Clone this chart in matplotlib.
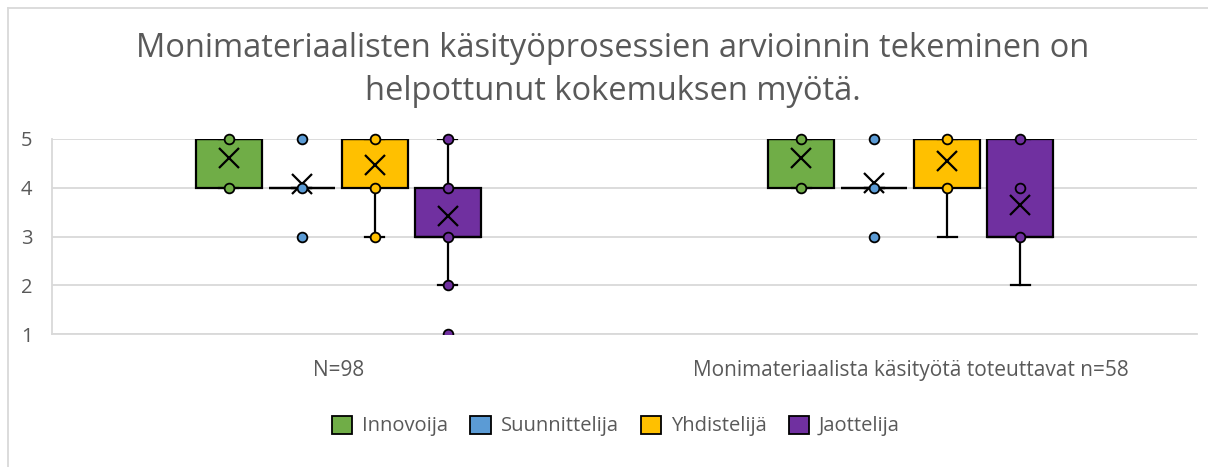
import matplotlib
matplotlib.use("Agg")
import matplotlib.pyplot as plt
from matplotlib.patches import Patch
from matplotlib.lines import Line2D

plt.rcParams['font.family'] = ['Open Sans', 'DejaVu Sans']

title = "Monimateriaalisten käsityöprosessien arvioinnin tekeminen on\nhelpottunut kokemuksen myötä."
groups = ["N=98", "Monimateriaalista käsityötä toteuttavat n=58"]
series = ["Innovoija", "Suunnittelija", "Yhdistelijä", "Jaottelija"]
colors = ["#70AD47", "#5B9BD5", "#FFC000", "#7030A0"]

# one row per group, one value per series
q1 = [[4, 4, 4, 3], [4, 4, 4, 3]]
q3 = [[5, 4, 5, 4], [5, 4, 5, 5]]
med = [[5, 4, 5, 3], [5, 4, 5, 3]]
whislo = [[4, 4, 3, 2], [4, 4, 3, 2]]
whishi = [[5, 4, 5, 5], [5, 4, 5, 5]]
means = [[4.62, 4.08, 4.46, 3.43], [4.61, 4.09, 4.54, 3.64]]
points = [
    [[5, 4], [5, 4, 3], [5, 4, 3], [5, 4, 3, 2, 1]],
    [[5, 4], [5, 4, 3], [5, 4], [5, 4, 3]],
]

text_col = "#595959"
grid_col = "#D9D9D9"

fig = plt.figure(figsize=(12.08, 4.67), dpi=100)
ax = fig.add_axes([52/1208, 1-334/467, (1197-52)/1208, (334-139)/467])

step = 0.1275
for g in range(len(groups)):
    for s in range(len(series)):
        pos = g + 0.5 + (s - 1.5) * step
        st = dict(med=med[g][s], q1=q1[g][s], q3=q3[g][s],
                  whislo=whislo[g][s], whishi=whishi[g][s],
                  mean=means[g][s], fliers=[])
        ax.bxp([st], positions=[pos], widths=0.115, patch_artist=True,
               showmeans=True, showfliers=False, capwidths=0.034,
               boxprops=dict(facecolor=colors[s], edgecolor="black", linewidth=1.6),
               whiskerprops=dict(color="black", linewidth=1.6),
               capprops=dict(color="black", linewidth=1.6),
               medianprops=dict(color="black", linewidth=1.6),
               meanprops=dict(marker="x", markeredgecolor="black",
                              markersize=14, markeredgewidth=1.6),
               zorder=3)
        for v in points[g][s]:
            ax.plot([pos], [v], marker="o", markersize=7, markerfacecolor=colors[s],
                    markeredgecolor="black", markeredgewidth=1.3, linestyle="none",
                    zorder=4, clip_on=(v <= 1))

ax.set_xlim(0, len(groups))
ax.set_ylim(1, 5)
ax.set_yticks([1, 2, 3, 4, 5])
ax.set_xticks([g + 0.5 for g in range(len(groups))])
ax.set_xticklabels(groups)
ax.tick_params(axis="both", length=0, colors=text_col, labelsize=15)
ax.tick_params(axis="y", pad=14, labelsize=14.5)
ax.tick_params(axis="x", pad=19)
ax.grid(axis="y", color=grid_col, linewidth=1.3, zorder=0)
ax.set_axisbelow(True)
for sp in ["top", "right"]:
    ax.spines[sp].set_visible(False)
for sp in ["left", "bottom"]:
    ax.spines[sp].set_color(grid_col)
    ax.spines[sp].set_linewidth(1.3)

fig.text(0.507, 1-70/467, title, ha="center", va="center", fontsize=23.5,
         color=text_col, linespacing=1.42)

handles = [Patch(facecolor=c, edgecolor="black", linewidth=1.3) for c in colors]
fig.legend(handles, series, loc="center", bbox_to_anchor=(616/1208, 1-426/467),
           ncol=4, frameon=False, fontsize=14.5, labelcolor=text_col,
           handlelength=1.0, handleheight=1.0, handletextpad=0.5, columnspacing=1.1)

# chart area border
fig.add_artist(Line2D([8/1208, 1], [1-8/467, 1-8/467], color=grid_col, linewidth=1.3,
                      transform=fig.transFigure))
fig.add_artist(Line2D([8/1208, 8/1208], [0, 1-8/467], color=grid_col, linewidth=1.3,
                      transform=fig.transFigure))

fig.savefig("out.png", dpi=100)
